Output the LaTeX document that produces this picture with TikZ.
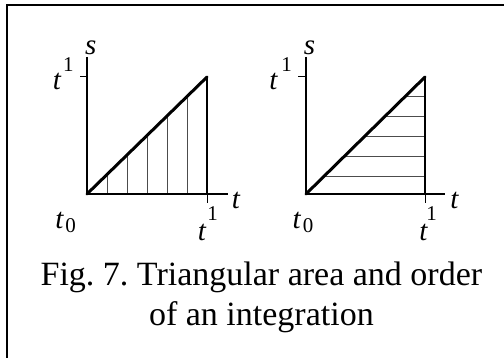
\documentclass[tikz,border=0pt]{standalone}
\usepackage{fontspec}
\setmainfont{Liberation Serif}
\begin{document}
\frenchspacing
\begin{tikzpicture}[x=1pt,y=1pt,
  axis/.style={line width=1.6pt,black},
  diag/.style={line width=3pt,black,line cap=round},
  hatch/.style={line width=0.9pt,black!70},
  tk/.style={line width=1pt,black},
  lt/.style={inner sep=0pt,font=\fontsize{29}{29}\selectfont\itshape},
  ld/.style={inner sep=0pt,font=\fontsize{21}{21}\selectfont},
  captext/.style={inner sep=0pt,align=center,font=\fontsize{34}{40}\selectfont}]
\useasboundingbox (0,0) rectangle (504,358);
% frame
\draw[line width=2pt] (7,0) -- (7,353) -- (504,353);
% ---------- left plot ----------
\coordinate (O1) at (87,164);
\coordinate (C1) at (207,281);
\coordinate (B1) at (207,164);
\coordinate (S1) at (87,301);
\coordinate (T1) at (228,164);
\foreach \x in {107,127,...,187}
  \draw[hatch] (\x,164) -- (\x,{164+(\x-87)*117/120});
\draw[axis] (S1) -- (O1) -- (T1);
\draw[axis] (B1) -- (C1);
\draw[tk] (80,281) -- (87,281);
\draw[tk] (B1) -- (207,155);
\draw[diag] (O1) -- (C1);
\node[lt] (s1) at (90.8,310) {s};
\node[lt] (ta1) at (57,276.7) {t};
\node[ld] (oa1) at (68.3,293) {1};
\node[lt] (tr1) at (235.8,158) {t};
\node[lt] (tb1) at (202,125.5) {t};
\node[ld] (ob1) at (212.5,144) {1};
\node[lt] (tz1) at (59.5,137.5) {t};
\node[ld] (z1) at (70.5,132) {0};
% ---------- right plot ----------
\coordinate (O2) at (306,164);
\coordinate (C2) at (425,281);
\coordinate (B2) at (425,164);
\coordinate (S2) at (306,301);
\coordinate (T2) at (445,164);
\foreach \y in {182,202,...,262}
  \draw[hatch] ({306+(\y-164)*119/117},\y) -- (425,\y);
\draw[axis] (S2) -- (O2) -- (T2);
\draw[axis] (B2) -- (C2);
\draw[tk] (298,281) -- (306,281);
\draw[tk] (B2) -- (425,155);
\draw[diag] (O2) -- (C2);
\node[lt] (s2) at (309.5,310) {s};
\node[lt] (ta2) at (273.3,276.7) {t};
\node[ld] (oa2) at (286.7,293) {1};
\node[lt] (tr2) at (454.5,158) {t};
\node[lt] (tb2) at (423.3,125.5) {t};
\node[ld] (ob2) at (431.7,144) {1};
\node[lt] (tz2) at (296.7,137.5) {t};
\node[ld] (z2) at (308,132) {0};
% ---------- caption ----------
\node[captext,anchor=base] (c1) at (261.4,72) {Fig. 7. Triangular area and order};
\node[captext,anchor=base] (c2) at (261.4,32) {of an integration};
\end{tikzpicture}
\end{document}
